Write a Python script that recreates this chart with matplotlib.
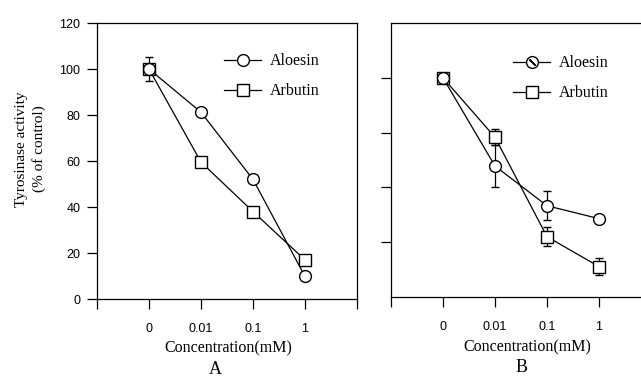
import matplotlib.pyplot as plt
from matplotlib.legend_handler import HandlerTuple

# concentrations shown as evenly spaced categories
conc_labels = ["0", "0.01", "0.1", "1"]
pos = [0, 1, 2, 3]

# panel A
a_aloesin = [100, 81.2, 52, 9.8]
a_aloesin_err = [0, 0, 0, 0]
a_arbutin = [100, 59.5, 38, 17]
a_arbutin_err = [5.4, 0, 0, 0]

# panel B
b_aloesin = [100, 67.8, 53.3, 48.6]
b_aloesin_err = [0, 7.6, 5.3, 0]
b_arbutin = [100, 78.3, 42.0, 31.1]
b_arbutin_err = [0, 3.0, 3.4, 3.1]

plt.rcParams['font.family'] = ['Liberation Sans', 'DejaVu Sans']
serif = 'Liberation Serif'

W, H = 641, 379
fig = plt.figure(figsize=(W / 100, H / 100), dpi=100)


def box(x0, y0, x1, y1):
    # pixel box -> figure fraction rect
    return [x0 / W, 1 - y1 / H, (x1 - x0) / W, (y1 - y0) / H]


def draw(ax, alo, alo_err, arb, arb_err):
    style = dict(color='black', lw=0.9, mfc='white', mec='black', mew=1.0,
                 ecolor='black', elinewidth=0.9, capsize=3, capthick=0.9)
    ax.errorbar(pos, arb, yerr=arb_err, marker='s', ms=8, zorder=3, **style)
    ax.errorbar(pos, alo, yerr=alo_err, marker='o', ms=8.5, zorder=4, **style)
    ax.set_xlim(-1, 4)
    ax.set_xticks([-1] + pos + [4])
    ax.set_xticklabels([""] + conc_labels + [""], fontsize=9)
    ax.tick_params(axis='x', direction='out', length=7, pad=10.5, width=0.9)
    ax.tick_params(axis='y', direction='out', length=7, pad=5, width=0.9)
    for s in ax.spines.values():
        s.set_linewidth(0.9)


def legend(ax, handles, x, y):
    ax.legend(handles, ["Aloesin", "Arbutin"], loc='upper left',
              handler_map={tuple: HandlerTuple(ndivide=1)},
              bbox_to_anchor=(x / W, 1 - y / H), bbox_transform=fig.transFigure,
              frameon=False, handlelength=2.3, handletextpad=0.55,
              labelspacing=0.86, prop={'family': serif, 'size': 11.5})


axA = fig.add_axes(box(97, 23, 357, 299))
draw(axA, a_aloesin, a_aloesin_err, a_arbutin, a_arbutin_err)
axA.set_ylim(0, 120)
axA.set_yticks(range(0, 121, 20))
axA.tick_params(axis='y', labelsize=9)

axB = fig.add_axes(box(391, 23, 651, 297))
draw(axB, b_aloesin, b_aloesin_err, b_arbutin, b_arbutin_err)
axB.set_ylim(20, 120)
axB.set_yticks([40, 60, 80, 100])
axB.set_yticklabels([])

# legends
lkw = dict(color='black', lw=0.9, mfc='white', mec='black', mew=1.0)
hA1, = axA.plot([], [], marker='o', ms=8.5, **lkw)
hA2, = axA.plot([], [], marker='s', ms=8, **lkw)
legend(axA, [hA1, hA2], 210, 39)

hB1, = axB.plot([], [], marker='o', ms=8.5, **lkw)
hB1x, = axB.plot([], [], marker=(2, 2, 45), ms=6, ls='none', mec='black', mew=1.0)
hB2, = axB.plot([], [], marker='s', ms=8, **lkw)
legend(axB, [(hB1, hB1x), hB2], 499, 41)

# labels
fig.text(30.5 / W, 1 - 149 / H, "Tyrosinase activity\n(% of control)", rotation=90,
         ha='center', va='center', family=serif, fontsize=11, linespacing=1.3)
fig.text(228 / W, 1 - 348 / H, "Concentration(mM)", ha='center', va='center',
         family=serif, fontsize=11.5)
fig.text(527 / W, 1 - 347 / H, "Concentration(mM)", ha='center', va='center',
         family=serif, fontsize=11.5)
fig.text(215 / W, 1 - 369 / H, "A", ha='center', va='center', family=serif, fontsize=13)
fig.text(522 / W, 1 - 367 / H, "B", ha='center', va='center', family=serif, fontsize=13)

fig.savefig("out.png", dpi=100)
